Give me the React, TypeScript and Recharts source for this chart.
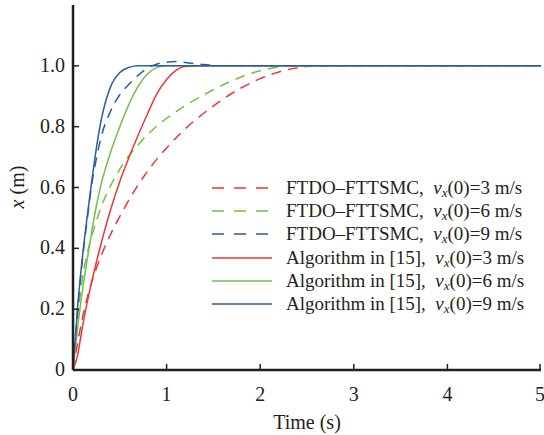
import { LineChart, Line, XAxis, YAxis } from "recharts";

// time samples (s) shared by all curves
const time = [0, 0.05, 0.1, 0.15, 0.2, 0.25, 0.3, 0.4, 0.5, 0.6, 0.7, 0.8, 0.9, 1.0, 1.1, 1.2, 1.4, 1.6, 1.8, 2.0, 2.2, 2.4, 2.6, 3, 4, 5];

// FTDO-FTTSMC
const ftdo3 = [0, 0.09, 0.17, 0.235, 0.29, 0.335, 0.375, 0.445, 0.505, 0.56, 0.61, 0.655, 0.695, 0.73, 0.763, 0.793, 0.845, 0.89, 0.928, 0.958, 0.98, 0.994, 1, 1, 1, 1];
const ftdo6 = [0, 0.17, 0.3, 0.38, 0.44, 0.49, 0.535, 0.605, 0.66, 0.705, 0.742, 0.775, 0.803, 0.827, 0.849, 0.869, 0.905, 0.937, 0.964, 0.984, 0.996, 1, 1, 1, 1, 1];
const ftdo9 = [0, 0.2, 0.36, 0.49, 0.61, 0.695, 0.765, 0.85, 0.905, 0.94, 0.97, 0.993, 1.006, 1.012, 1.014, 1.011, 1.004, 1, 1, 1, 1, 1, 1, 1, 1, 1];

// Algorithm in [15]
const alg3 = [0, 0.05, 0.14, 0.22, 0.29, 0.355, 0.415, 0.525, 0.62, 0.7, 0.775, 0.845, 0.91, 0.955, 0.985, 0.998, 1, 1, 1, 1, 1, 1, 1, 1, 1, 1];
const alg6 = [0, 0.14, 0.26, 0.36, 0.455, 0.54, 0.61, 0.715, 0.8, 0.875, 0.935, 0.975, 0.995, 1, 1, 1, 1, 1, 1, 1, 1, 1, 1, 1, 1, 1];
const alg9 = [0, 0.21, 0.37, 0.5, 0.62, 0.73, 0.82, 0.93, 0.978, 0.995, 1, 1, 1, 1, 1, 1, 1, 1, 1, 1, 1, 1, 1, 1, 1, 1];

const xTicks = [0, 1, 2, 3, 4, 5];
const yTicks = [0, 0.2, 0.4, 0.6, 0.8, 1.0];

const RED = "#ee3535";
const GREEN = "#74c044";
const BLUE = "#2b5ca8";
const INK = "#231f20";
const SERIF = "Liberation Serif";

const series = [
  { key: "ftdo3", color: RED, dashed: true, name: "FTDO\u2013FTTSMC,", speed: "3" },
  { key: "ftdo6", color: GREEN, dashed: true, name: "FTDO\u2013FTTSMC,", speed: "6" },
  { key: "ftdo9", color: BLUE, dashed: true, name: "FTDO\u2013FTTSMC,", speed: "9" },
  { key: "alg3", color: RED, dashed: false, name: "Algorithm in [15],", speed: "3" },
  { key: "alg6", color: GREEN, dashed: false, name: "Algorithm in [15],", speed: "6" },
  { key: "alg9", color: BLUE, dashed: false, name: "Algorithm in [15],", speed: "9" },
];

const XTick = ({ x, y, payload }: any) => (
  <g>
    <line x1={x} x2={x} y1={y} y2={y - 6} stroke={INK} strokeWidth={1.5} />
    <text x={x} y={y + 31} textAnchor="middle" fontSize={20} fontFamily={SERIF} fill={INK}>
      {payload.value}
    </text>
  </g>
);

const TopTick = ({ x, y }: any) => (
  <line x1={x} x2={x} y1={y} y2={y + 6} stroke={INK} strokeWidth={1.5} />
);

const YTick = ({ x, y, payload }: any) => (
  <g>
    <line x1={x} x2={x + 6} y1={y} y2={y} stroke={INK} strokeWidth={1.5} />
    <text x={x - 8} y={y + 6} textAnchor="end" fontSize={20} fontFamily={SERIF} fill={INK}>
      {payload.value === 0 ? "0" : payload.value.toFixed(1)}
    </text>
  </g>
);

const RightTick = ({ x, y }: any) => (
  <line x1={x} x2={x - 6} y1={y} y2={y} stroke={INK} strokeWidth={1.5} />
);

const XLabel = ({ viewBox }: any) => (
  <text x={viewBox.x + viewBox.width / 2} y={429} textAnchor="middle" fontSize={20} fontFamily={SERIF} fill={INK}>
    Time (s)
  </text>
);

const YLabel = () => (
  <text x={24} y={187} transform="rotate(-90, 24, 187)" textAnchor="middle" fontSize={20} fontFamily={SERIF} fill={INK}>
    <tspan fontStyle="italic">x</tspan> (m)
  </text>
);

export default function App() {
  const data = time.map((t, i) => ({
    t,
    ftdo3: ftdo3[i],
    ftdo6: ftdo6[i],
    ftdo9: ftdo9[i],
    alg3: alg3[i],
    alg6: alg6[i],
    alg9: alg9[i],
  }));

  const axisLine = { stroke: INK, strokeWidth: 2.5 };

  return (
    <div style={{ position: "absolute", left: 0, top: 0, width: 544, height: 435, background: "#fff" }}>
      <LineChart width={544} height={435} data={data} margin={{ top: 5, right: 3, bottom: 0, left: 0 }}>
        <XAxis
          dataKey="t"
          type="number"
          domain={[0, 5]}
          ticks={xTicks}
          height={65}
          tickSize={0}
          tickMargin={0}
          tick={<XTick />}
          axisLine={axisLine}
          label={{ content: XLabel }}
        />
        <XAxis
          xAxisId="top"
          orientation="top"
          dataKey="t"
          type="number"
          domain={[0, 5]}
          ticks={xTicks}
          height={0}
          tickSize={0}
          tickMargin={0}
          tick={<TopTick />}
          axisLine={axisLine}
        />
        <YAxis
          type="number"
          domain={[0, 1.2]}
          ticks={yTicks}
          width={73}
          tickSize={0}
          tickMargin={0}
          tick={<YTick />}
          axisLine={axisLine}
          label={{ content: YLabel }}
        />
        <YAxis
          yAxisId="right"
          orientation="right"
          type="number"
          domain={[0, 1.2]}
          ticks={yTicks}
          width={0}
          tickSize={0}
          tickMargin={0}
          tick={<RightTick />}
          axisLine={axisLine}
        />
        {series.map((s) => (
          <Line
            key={s.key}
            type="monotone"
            dataKey={s.key}
            stroke={s.color}
            strokeWidth={1.5}
            strokeDasharray={s.dashed ? "10 7" : undefined}
            dot={false}
            activeDot={false}
            isAnimationActive={false}
          />
        ))}
      </LineChart>

      <div style={{ position: "absolute", left: 212, top: 176, fontFamily: SERIF, fontSize: 19, color: INK }}>
        {series.map((s) => (
          <div key={s.key} style={{ display: "flex", alignItems: "center", height: 23.3, whiteSpace: "nowrap" }}>
            <svg width={60} height={10} style={{ display: "block" }}>
              <line
                x1={0}
                x2={60}
                y1={5}
                y2={5}
                stroke={s.color}
                strokeWidth={1.5}
                strokeDasharray={s.dashed ? "12 10" : undefined}
              />
            </svg>
            <span style={{ marginLeft: 14 }}>
              {s.name}&nbsp;&nbsp;<i>v</i>
              <sub style={{ fontSize: 13, verticalAlign: "-3px", lineHeight: 0 }}><i>x</i></sub>(0)={s.speed} m/s
            </span>
          </div>
        ))}
      </div>
    </div>
  );
}
